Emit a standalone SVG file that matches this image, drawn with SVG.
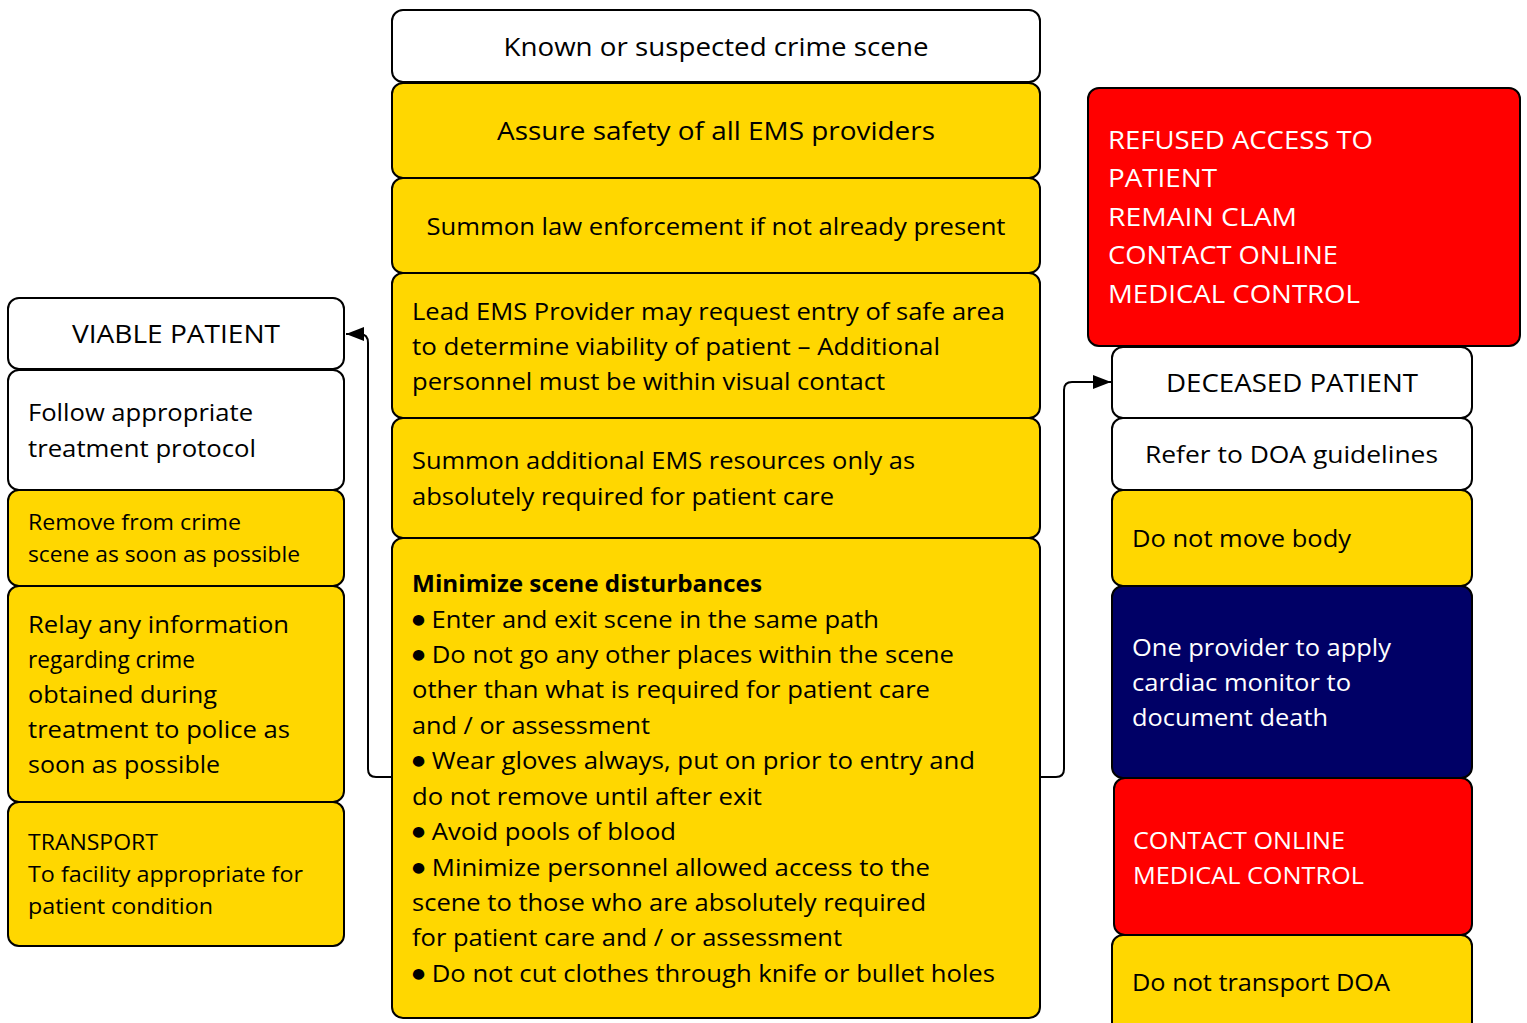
<svg xmlns="http://www.w3.org/2000/svg" width="1527" height="1023" viewBox="0 0 1527 1023">
  <style>
    .box { stroke: #000; stroke-width: 2; }
    .w { fill: #ffffff; }
    .y { fill: #ffd700; }
    .r { fill: #ff0000; }
    .n { fill: #000066; }
    text { font-family: "Open Sans", "Noto Sans", sans-serif; fill: #000; }
    .lt { fill: #ffffff; }
    .t26 { font-size: 26px; }
    .t24 { font-size: 24px; }
    .t22 { font-size: 22px; }
    .b { font-weight: bold; }
    .c { text-anchor: middle; }
    .bul { font-family: "DejaVu Sans", sans-serif; font-size: 14px; }
    .link { fill: none; stroke: #000; stroke-width: 2; }
  </style>
  <defs>
    <marker id="tri" viewBox="0 0 18 14" refX="18" refY="7" markerWidth="18" markerHeight="14" markerUnits="userSpaceOnUse" orient="auto">
      <path d="M0,0 L18,7 L0,14 Z" fill="#000"/>
    </marker>
  </defs>

  <!-- connectors -->
  <g id="connectors">
    <path class="link" d="M392,777 L376,777 Q368,777 368,769 L368,343 Q368,334 360,334 L346,334" marker-end="url(#tri)"/>
    <path class="link" d="M1040,777 L1056,777 Q1064,777 1064,769 L1064,390 Q1064,382 1072,382 L1111,382" marker-end="url(#tri)"/>
  </g>

  <!-- centre column -->
  <g id="crime-scene">
    <rect class="box w" x="392" y="10" width="648" height="72" rx="11"/>
    <text class="t26 c" x="716" y="56" textLength="425" lengthAdjust="spacingAndGlyphs">Known or suspected crime scene</text>
  </g>
  <g id="assure-safety">
    <rect class="box y" x="392" y="83" width="648" height="95" rx="11"/>
    <text class="t26 c" x="716" y="140" textLength="438" lengthAdjust="spacingAndGlyphs">Assure safety of all EMS providers</text>
  </g>
  <g id="summon-law">
    <rect class="box y" x="392" y="178" width="648" height="95" rx="11"/>
    <text class="t24 c" x="716" y="235" textLength="579" lengthAdjust="spacingAndGlyphs">Summon law enforcement if not already present</text>
  </g>
  <g id="lead-provider">
    <rect class="box y" x="392" y="273" width="648" height="145" rx="11"/>
    <text class="t24" x="412" y="320" textLength="593" lengthAdjust="spacingAndGlyphs">Lead EMS Provider may request entry of safe area</text>
    <text class="t24" x="412" y="355" textLength="528" lengthAdjust="spacingAndGlyphs">to determine viability of patient – Additional</text>
    <text class="t24" x="412" y="390" textLength="473" lengthAdjust="spacingAndGlyphs">personnel must be within visual contact</text>
  </g>
  <g id="summon-resources">
    <rect class="box y" x="392" y="418" width="648" height="120" rx="11"/>
    <text class="t24" x="412" y="469" textLength="503" lengthAdjust="spacingAndGlyphs">Summon additional EMS resources only as</text>
    <text class="t24" x="412" y="505" textLength="422" lengthAdjust="spacingAndGlyphs">absolutely required for patient care</text>
  </g>
  <g id="minimize-disturbances">
    <rect class="box y" x="392" y="538" width="648" height="480" rx="11"/>
    <text class="t24 b" x="412" y="592" textLength="350" lengthAdjust="spacingAndGlyphs">Minimize scene disturbances</text>
    <text class="t24" x="412" y="628" textLength="467" lengthAdjust="spacingAndGlyphs"><tspan class="bul" dy="-4">●</tspan><tspan dy="4"> Enter and exit scene in the same path</tspan></text>
    <text class="t24" x="412" y="663" textLength="542" lengthAdjust="spacingAndGlyphs"><tspan class="bul" dy="-4">●</tspan><tspan dy="4"> Do not go any other places within the scene</tspan></text>
    <text class="t24" x="412" y="698" textLength="518" lengthAdjust="spacingAndGlyphs">other than what is required for patient care</text>
    <text class="t24" x="412" y="734" textLength="238" lengthAdjust="spacingAndGlyphs">and / or assessment</text>
    <text class="t24" x="412" y="769" textLength="563" lengthAdjust="spacingAndGlyphs"><tspan class="bul" dy="-4">●</tspan><tspan dy="4"> Wear gloves always, put on prior to entry and</tspan></text>
    <text class="t24" x="412" y="805" textLength="350" lengthAdjust="spacingAndGlyphs">do not remove until after exit</text>
    <text class="t24" x="412" y="840" textLength="264" lengthAdjust="spacingAndGlyphs"><tspan class="bul" dy="-4">●</tspan><tspan dy="4"> Avoid pools of blood</tspan></text>
    <text class="t24" x="412" y="876" textLength="518" lengthAdjust="spacingAndGlyphs"><tspan class="bul" dy="-4">●</tspan><tspan dy="4"> Minimize personnel allowed access to the</tspan></text>
    <text class="t24" x="412" y="911" textLength="514" lengthAdjust="spacingAndGlyphs">scene to those who are absolutely required</text>
    <text class="t24" x="412" y="946" textLength="430" lengthAdjust="spacingAndGlyphs">for patient care and / or assessment</text>
    <text class="t24" x="412" y="982" textLength="583" lengthAdjust="spacingAndGlyphs"><tspan class="bul" dy="-4">●</tspan><tspan dy="4"> Do not cut clothes through knife or bullet holes</tspan></text>
  </g>

  <!-- viable patient column -->
  <g id="viable-patient">
    <rect class="box w" x="8" y="298" width="336" height="71" rx="11"/>
    <text class="t26 c" x="176" y="343" textLength="208" lengthAdjust="spacingAndGlyphs">VIABLE PATIENT</text>
  </g>
  <g id="treatment-protocol">
    <rect class="box w" x="8" y="370" width="336" height="120" rx="11"/>
    <text class="t24" x="28" y="421" textLength="225" lengthAdjust="spacingAndGlyphs">Follow appropriate</text>
    <text class="t24" x="28" y="457" textLength="228" lengthAdjust="spacingAndGlyphs">treatment protocol</text>
  </g>
  <g id="remove-from-scene">
    <rect class="box y" x="8" y="490" width="336" height="96" rx="11"/>
    <text class="t22" x="28" y="530" textLength="213" lengthAdjust="spacingAndGlyphs">Remove from crime</text>
    <text class="t22" x="28" y="562" textLength="272" lengthAdjust="spacingAndGlyphs">scene as soon as possible</text>
  </g>
  <g id="relay-information">
    <rect class="box y" x="8" y="586" width="336" height="216" rx="11"/>
    <text class="t24" x="28" y="633" textLength="261" lengthAdjust="spacingAndGlyphs">Relay any information</text>
    <text class="t24" x="28" y="668" textLength="167" lengthAdjust="spacingAndGlyphs">regarding crime</text>
    <text class="t24" x="28" y="703" textLength="189" lengthAdjust="spacingAndGlyphs">obtained during</text>
    <text class="t24" x="28" y="738" textLength="262" lengthAdjust="spacingAndGlyphs">treatment to police as</text>
    <text class="t24" x="28" y="773" textLength="192" lengthAdjust="spacingAndGlyphs">soon as possible</text>
  </g>
  <g id="transport">
    <rect class="box y" x="8" y="802" width="336" height="144" rx="11"/>
    <text class="t22" x="28" y="850" textLength="130" lengthAdjust="spacingAndGlyphs">TRANSPORT</text>
    <text class="t22" x="28" y="882" textLength="275" lengthAdjust="spacingAndGlyphs">To facility appropriate for</text>
    <text class="t22" x="28" y="914" textLength="185" lengthAdjust="spacingAndGlyphs">patient condition</text>
  </g>

  <!-- deceased patient column -->
  <g id="refused-access">
    <rect class="box r" x="1088" y="88" width="432" height="258" rx="11"/>
    <text class="t26 lt" x="1108" y="149" textLength="265" lengthAdjust="spacingAndGlyphs">REFUSED ACCESS TO</text>
    <text class="t26 lt" x="1108" y="187" textLength="109" lengthAdjust="spacingAndGlyphs">PATIENT</text>
    <text class="t26 lt" x="1108" y="226" textLength="189" lengthAdjust="spacingAndGlyphs">REMAIN CLAM</text>
    <text class="t26 lt" x="1108" y="264" textLength="230" lengthAdjust="spacingAndGlyphs">CONTACT ONLINE</text>
    <text class="t26 lt" x="1108" y="303" textLength="252" lengthAdjust="spacingAndGlyphs">MEDICAL CONTROL</text>
  </g>
  <g id="deceased-patient">
    <rect class="box w" x="1112" y="347" width="360" height="71" rx="11"/>
    <text class="t26 c" x="1292" y="392" textLength="252" lengthAdjust="spacingAndGlyphs">DECEASED PATIENT</text>
  </g>
  <g id="doa-guidelines">
    <rect class="box w" x="1112" y="418" width="360" height="72" rx="11"/>
    <text class="t24" x="1145" y="463" textLength="293" lengthAdjust="spacingAndGlyphs">Refer to DOA guidelines</text>
  </g>
  <g id="do-not-move">
    <rect class="box y" x="1112" y="490" width="360" height="96" rx="11"/>
    <text class="t24" x="1132" y="547" textLength="219" lengthAdjust="spacingAndGlyphs">Do not move body</text>
  </g>
  <g id="cardiac-monitor">
    <rect class="box n" x="1112" y="586" width="360" height="192" rx="11"/>
    <text class="t24 lt" x="1132" y="656" textLength="259" lengthAdjust="spacingAndGlyphs">One provider to apply</text>
    <text class="t24 lt" x="1132" y="691" textLength="219" lengthAdjust="spacingAndGlyphs">cardiac monitor to</text>
    <text class="t24 lt" x="1132" y="726" textLength="196" lengthAdjust="spacingAndGlyphs">document death</text>
  </g>
  <g id="contact-medical-control">
    <rect class="box r" x="1114" y="778" width="358" height="157" rx="11"/>
    <text class="t24 lt" x="1133" y="849" textLength="212" lengthAdjust="spacingAndGlyphs">CONTACT ONLINE</text>
    <text class="t24 lt" x="1133" y="884" textLength="231" lengthAdjust="spacingAndGlyphs">MEDICAL CONTROL</text>
  </g>
  <g id="do-not-transport">
    <rect class="box y" x="1112" y="935" width="360" height="100" rx="11"/>
    <text class="t24" x="1132" y="991" textLength="258" lengthAdjust="spacingAndGlyphs">Do not transport DOA</text>
  </g>
</svg>
